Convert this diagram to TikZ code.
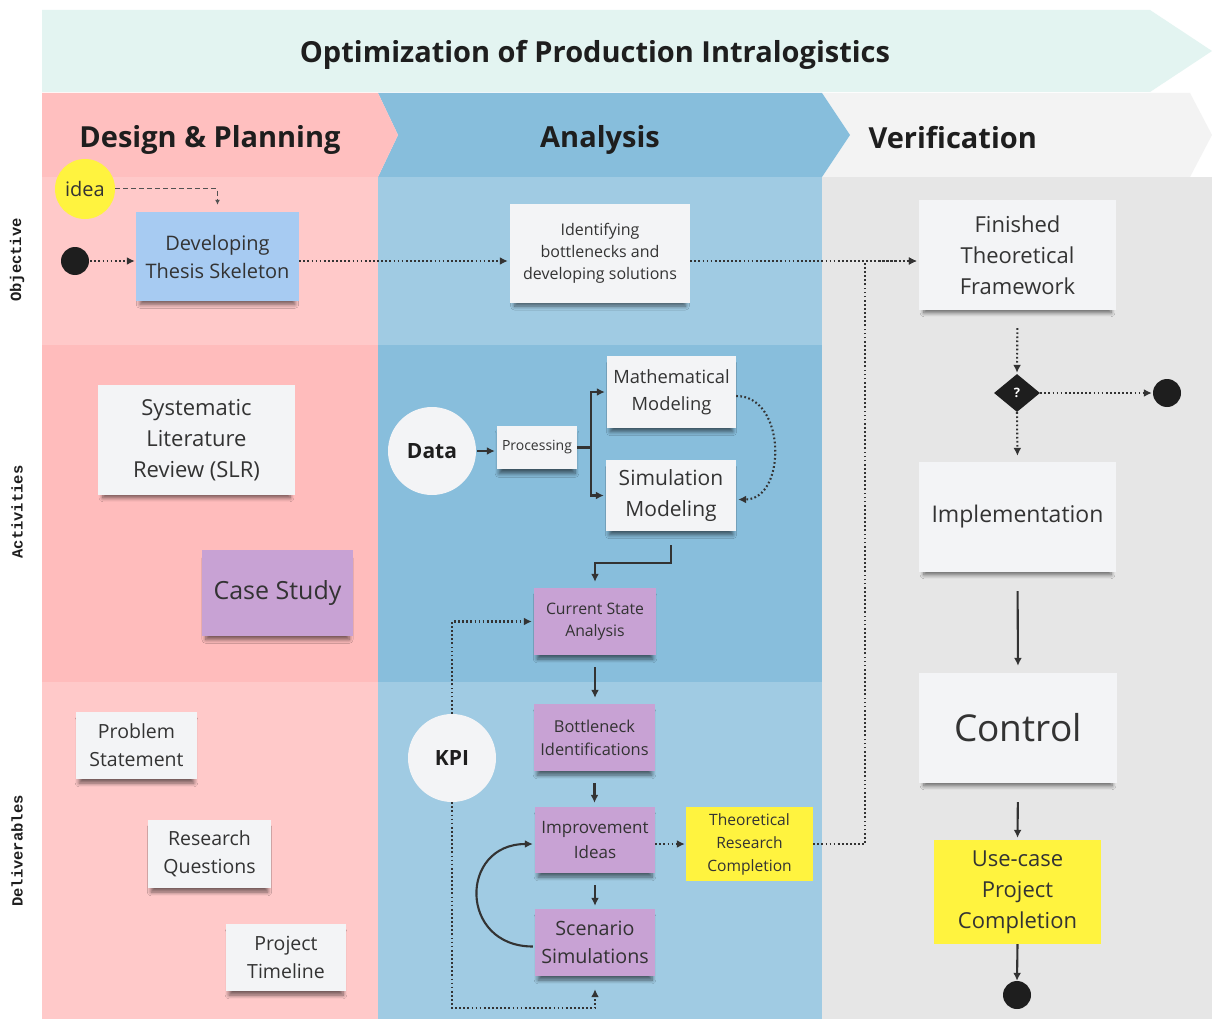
\documentclass[tikz,border=0pt]{standalone}
\usepackage{fontspec}
\setmainfont{Open Sans}
\setmonofont{Liberation Mono}
\usetikzlibrary{arrows.meta,shapes.geometric,shadows,shadows.blur}

\definecolor{mint}{HTML}{E3F4F1}
\definecolor{pinkHead}{HTML}{FFBFBF}
\definecolor{pinkLight}{HTML}{FFC9C9}
\definecolor{pinkMid}{HTML}{FFBCBC}
\definecolor{blueHead}{HTML}{87BEDC}
\definecolor{blueLight}{HTML}{A0CBE3}
\definecolor{blueMid}{HTML}{88BEDC}
\definecolor{grayHead}{HTML}{F3F3F3}
\definecolor{grayBody}{HTML}{E6E6E6}
\definecolor{noteW}{HTML}{F3F4F6}
\definecolor{noteB}{HTML}{A7CBF2}
\definecolor{notePurple}{HTML}{C8A2D4}
\definecolor{noteY}{HTML}{FFF33F}
\definecolor{txt}{HTML}{333333}
\definecolor{ink}{HTML}{1E1E1E}
\definecolor{wire}{HTML}{333333}

\newcommand{\fs}[2]{\fontsize{#1}{#2}\selectfont}

\tikzset{
  note/.style={rectangle, fill=noteW, text=txt, align=center, inner sep=0pt,
    blur shadow={shadow xshift=0pt, shadow yshift=-6pt, shadow blur radius=4pt,
      shadow blur steps=8, shadow opacity=55, shadow scale=0.95}},
  flatnote/.style={rectangle, fill=noteY, text=txt, align=center, inner sep=0pt},
  bubble/.style={circle, fill=noteW, text=ink, inner sep=0pt, font=\bfseries},
  dot/.style={circle, fill=ink, inner sep=0pt, minimum size=28pt},
  dotline/.style={draw=wire, line width=2.1pt, dash pattern=on 1.7pt off 2.4pt,
    -{Latex[length=8pt,width=8pt]}},
  solidline/.style={draw=wire, line width=2.1pt, -{Latex[length=8pt,width=8pt]}},
  dashline/.style={draw=wire!85, line width=1pt, dash pattern=on 5pt off 3pt,
    -{Latex[length=5pt,width=5pt]}},
  lanelabel/.style={rotate=90, font=\ttfamily\bfseries\fs{15.5}{15.5}, text=ink},
  phase/.style={font=\bfseries\fs{29}{29}, text=ink},
}

\begin{document}
\begin{tikzpicture}[x=1pt,y=-1pt]
\useasboundingbox (0,0) rectangle (1212,1019);
\fill[white] (0,0) rectangle (1212,1019);

% title banner
\fill[mint] (42,10) -- (1150,10) -- (1212,51) -- (1150,92) -- (42,92) -- cycle;
\node[font=\bfseries\fs{29}{29}, text=ink] (title) at (595,55) {Optimization of Production Intralogistics};

% column bodies
\fill[pinkLight] (42,177) rectangle (378,345);
\fill[pinkMid]   (42,345) rectangle (378,682);
\fill[pinkLight] (42,682) rectangle (378,1019);
\fill[blueLight] (378,177) rectangle (822,345);
\fill[blueMid]   (378,345) rectangle (822,682);
\fill[blueLight] (378,682) rectangle (822,1019);
\fill[grayBody]  (822,177) rectangle (1212,1019);

% phase headers
\fill[grayHead] (822,93) -- (1190,93) -- (1212,135) -- (1190,177) -- (822,177) -- (850,135) -- cycle;
\fill[blueHead] (378,93) -- (822,93) -- (850,135) -- (822,177) -- (378,177) -- (398,135) -- cycle;
\fill[pinkHead] (42,93) -- (378,93) -- (398,135) -- (378,177) -- (42,177) -- cycle;
\node[phase] (hDesign) at (210,140) {Design \& Planning};
\node[phase] (hAnalysis) at (600,140) {Analysis};
\node[phase, anchor=west] (hVerif) at (865,138) {Verification};

% lane labels
\node[lanelabel] (lObj) at (17,260) {Objective};
\node[lanelabel] (lAct) at (17,512) {Activities};
\node[lanelabel] (lDel) at (17,851) {Deliverables};

% ---------- Design & Planning ----------
\node[circle, fill=noteY, text=txt, minimum size=60pt, inner sep=0pt, font=\fs{20}{20}] (idea) at (85,189) {idea};
\node[dot] (start) at (75,261) {};
\node[note, fill=noteB, minimum width=163pt, minimum height=89pt, font=\fs{20}{28}] (dev) at (217.5,256.5) {Developing\\Thesis Skeleton};
\node[note, minimum width=197pt, minimum height=110pt, font=\fs{22}{31}] (slr) at (196.5,440) {Systematic\\Literature\\Review (SLR)};
\node[note, fill=notePurple, minimum width=151pt, minimum height=86pt, font=\fs{25}{25}] (case) at (277.5,593) {Case Study};
\node[note, minimum width=121pt, minimum height=67pt, font=\fs{19.5}{28}] (prob) at (136.5,745.5) {Problem\\Statement};
\node[note, minimum width=123pt, minimum height=68pt, font=\fs{19.5}{28}] (rq) at (209.5,854) {Research\\Questions};
\node[note, minimum width=120pt, minimum height=67pt, font=\fs{19.5}{28}] (ptl) at (286,957.5) {Project\\Timeline};

% ---------- Analysis ----------
\node[note, minimum width=180pt, minimum height=99pt, font=\fs{16}{22}] (ident) at (600,253.5) {Identifying\\bottlenecks and\\developing solutions};
\node[bubble, minimum size=88pt, font=\bfseries\fs{21}{21}] (data) at (432,451) {Data};
\node[note, minimum width=80pt, minimum height=43pt, font=\fs{14}{14}] (proc) at (537,447.5) {Processing};
\node[note, minimum width=129pt, minimum height=72pt, font=\fs{18.3}{27}] (math) at (671.5,392) {Mathematical\\Modeling};
\node[note, minimum width=130pt, minimum height=71pt, font=\fs{21}{31}] (sim) at (671,495.5) {Simulation\\Modeling};
\node[note, fill=notePurple, minimum width=122pt, minimum height=67pt, font=\fs{15.8}{22}] (csa) at (595,621.5) {Current State\\Analysis};
\node[note, fill=notePurple, minimum width=121pt, minimum height=67pt, font=\fs{16.4}{23}] (bn) at (594.5,737.5) {Bottleneck\\Identifications};
\node[note, fill=notePurple, minimum width=120pt, minimum height=66pt, font=\fs{17}{25}] (imp) at (595,840) {Improvement\\Ideas};
\node[note, fill=notePurple, minimum width=120pt, minimum height=67pt, font=\fs{19.7}{28}] (scn) at (595,942.5) {Scenario\\Simulations};
\node[bubble, minimum size=88pt, font=\bfseries\fs{21}{21}] (kpi) at (452,758) {KPI};
\node[flatnote, minimum width=127pt, minimum height=74pt, font=\fs{15.6}{23}] (trc) at (749.5,844) {Theoretical\\Research\\Completion};

% ---------- Verification ----------
\node[note, minimum width=197pt, minimum height=110pt, font=\fs{22}{31}] (fin) at (1017.5,255) {Finished\\Theoretical\\Framework};
\node[diamond, fill=ink, text=white, minimum width=46pt, minimum height=38pt, inner sep=0pt, font=\bfseries\fs{13}{13}] (dec) at (1017,393) {?};
\node[dot] (endA) at (1167,393) {};
\node[note, minimum width=197pt, minimum height=110pt, font=\fs{23}{23}] (impl) at (1017.5,517) {Implementation};
\node[note, minimum width=198pt, minimum height=110pt, font=\fs{37}{37}] (ctrl) at (1018,728) {Control};
\node[flatnote, minimum width=167pt, minimum height=104pt, font=\fs{22}{31}] (uc) at (1017.5,892) {Use-case\\Project\\Completion};
\node[dot] (endB) at (1017,995) {};

% ---------- connectors ----------
\draw[dashline, shorten >=7pt] (idea.east) -| (dev.north);
\draw[dotline, shorten <=1pt, shorten >=1pt] (start.east) -- (start.east -| dev.west);
\draw[dotline, shorten >=2pt] (dev.east |- start) -- (ident.west |- start);
\draw[dotline, shorten >=2pt] (ident.east |- start) -- (fin.west |- start);
\draw[dotline, shorten <=18pt, shorten >=1pt] (fin.south) -- (dec.north);
\draw[dotline, shorten >=1pt] (dec.east) -- (endA.west);
\draw[dotline, shorten >=6pt] (dec.south) -- (impl.north);
\draw[solidline, shorten <=19pt, shorten >=7pt] (impl.south) -- (ctrl.north);
\draw[solidline, shorten <=19pt, shorten >=2pt] (ctrl.south) -- (uc.north);
\draw[solidline, shorten >=0pt] (uc.south) -- (endB.north);

\draw[solidline, shorten <=1pt, shorten >=2pt] (data.east) -- (proc.west |- data.east);
\draw[solidline, shorten >=2pt] (proc.east) -- ++(14,0) |- (math.west);
\draw[solidline, shorten >=2pt] (proc.east) -- ++(14,0) |- (sim.west);
\draw[dotline, shorten >=2pt] ([yshift=-4pt]math.east) to[out=0, in=0, looseness=1.25] ([yshift=-4pt]sim.east);
\draw[solidline, shorten >=6pt] ([yshift=-14pt]sim.south) -- ([yshift=-32pt]sim.south) -| (csa.north);
\draw[solidline, shorten <=12pt, shorten >=6pt] (csa.south) -- (csa.south |- bn.north);
\draw[solidline, shorten <=12pt, shorten >=4pt] (bn.south) -- (bn.south |- imp.north);
\draw[solidline, shorten <=12pt, shorten >=3pt] (imp.south) -- (imp.south |- scn.north);
\draw[solidline, shorten <=2pt, shorten >=2pt] ([yshift=-4pt]scn.west) to[out=180, in=180, looseness=1.9] ([yshift=-4pt]imp.west);
\draw[dotline, shorten >=2pt] (kpi.north) |- (csa.west);
\draw[dotline] (kpi.south) |- ([yshift=-32pt]scn.south) -- ([yshift=-13pt]scn.south);
\draw[dotline, shorten >=1pt] ([yshift=-4pt]imp.east) -- ([yshift=-4pt]imp.east -| trc.west);
\draw[dotline, shorten >=2pt] (trc.east) -- ++(52,0) |- (fin.west |- start);

\end{tikzpicture}
\end{document}
